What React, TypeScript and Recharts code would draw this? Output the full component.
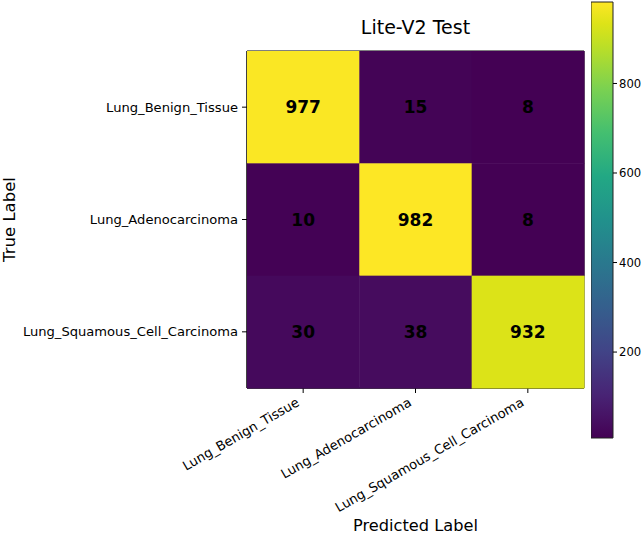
import React from "react";
import { ScatterChart, Scatter, XAxis, YAxis, ReferenceArea } from "recharts";

// confusion matrix, rows = true label, cols = predicted label
const classNames = ["Lung_Benign_Tissue", "Lung_Adenocarcinoma", "Lung_Squamous_Cell_Carcinoma"];
const rowBenign = [977, 15, 8];
const rowAdeno = [10, 982, 8];
const rowSquamous = [30, 38, 932];
const colorbarTicks = [200, 400, 600, 800];
const chartTitle = "Lite-V2 Test";

const matrix = [rowBenign, rowAdeno, rowSquamous];
const cells = matrix.flatMap((row, r) => row.map((value, c) => ({ col: c, row: r, value })));
const vmin = Math.min(...matrix.flat());
const vmax = Math.max(...matrix.flat());
const barEnds = [{ x: 0, y: vmin }, { x: 1, y: vmax }];

const FONT = "'DejaVu Sans', 'Liberation Sans', sans-serif";
const TICK_FS = 13.1;
const PLOT = 337;
const CELL = PLOT / classNames.length;

const VIRIDIS: [number, string][] = [
  [0, "#440154"], [0.05, "#471365"], [0.1, "#482475"], [0.2, "#414487"],
  [0.3, "#355f8d"], [0.4, "#2a788e"], [0.5, "#21918c"], [0.6, "#22a884"],
  [0.7, "#44bf70"], [0.8, "#7ad151"], [0.9, "#bddf26"], [0.95, "#dde318"], [1, "#fde725"],
];

function hexToRgb(h: string) {
  return [1, 3, 5].map((i) => parseInt(h.slice(i, i + 2), 16));
}

function viridis(t: number) {
  const v = Math.max(0, Math.min(1, t));
  for (let i = 1; i < VIRIDIS.length; i++) {
    const [t1, c1] = VIRIDIS[i];
    const [t0, c0] = VIRIDIS[i - 1];
    if (v <= t1) {
      const f = (v - t0) / (t1 - t0);
      const a = hexToRgb(c0);
      const b = hexToRgb(c1);
      const rgb = a.map((x, k) => Math.round(x + (b[k] - x) * f));
      return `rgb(${rgb.join(",")})`;
    }
  }
  return VIRIDIS[VIRIDIS.length - 1][1];
}

function HeatCell(props: any) {
  const { cx, cy, payload } = props;
  const t = (payload.value - vmin) / (vmax - vmin);
  return (
    <g>
      <rect x={cx - CELL / 2} y={cy - CELL / 2} width={CELL + 0.5} height={CELL + 0.5} fill={viridis(t)} />
      <text
        x={cx}
        y={cy}
        dy="0.36em"
        textAnchor="middle"
        fontSize={17}
        fontWeight="bold"
        fill="#000"
        fontFamily={FONT}
      >
        {payload.value}
      </text>
    </g>
  );
}

function XTick(props: any) {
  const { x, y, payload } = props;
  const ax = x - 3;
  const ay = y + 10;
  return (
    <text
      x={ax}
      y={ay}
      transform={`rotate(-30 ${ax} ${ay})`}
      textAnchor="end"
      fontSize={TICK_FS}
      fill="#000"
      fontFamily={FONT}
    >
      {classNames[payload.value]}
    </text>
  );
}

function TrueLabel(props: any) {
  const vb = props.viewBox;
  const x = vb.x + 15;
  const y = vb.y + vb.height / 2;
  return (
    <text x={x} y={y} transform={`rotate(-90 ${x} ${y})`} textAnchor="middle" fontSize={16.5} fill="#000" fontFamily={FONT}>
      True Label
    </text>
  );
}

export default function App() {
  return (
    <div style={{ position: "relative", width: 644, height: 535, fontFamily: FONT, background: "#fff", overflow: "hidden" }}>
      <style>{`body{margin:0}`}</style>
      <ScatterChart width={644} height={535} margin={{ top: 51, right: 60, bottom: 0, left: 0 }}>
        <XAxis
          type="number"
          dataKey="col"
          domain={[-0.5, 2.5]}
          ticks={[0, 1, 2]}
          height={147}
          tickSize={5}
          tickMargin={2}
          tick={<XTick />}
          axisLine={{ stroke: "#000" }}
          tickLine={{ stroke: "#000" }}
          label={{ value: "Predicted Label", position: "insideBottom", offset: 4, fontSize: 16.2, fill: "#000" }}
        />
        <YAxis
          type="number"
          dataKey="row"
          domain={[-0.5, 2.5]}
          reversed
          ticks={[0, 1, 2]}
          width={247}
          tickSize={5}
          tickMargin={4}
          tickFormatter={(v: number) => classNames[v]}
          tick={{ fontSize: TICK_FS, fill: "#000" }}
          axisLine={{ stroke: "#000" }}
          tickLine={{ stroke: "#000" }}
          label={{ content: <TrueLabel /> }}
        />
        <Scatter data={cells} shape={<HeatCell />} isAnimationActive={false} />
        <ReferenceArea x1={-0.5} x2={2.5} y1={-0.5} y2={2.5} fill="none" stroke="#000" strokeWidth={1} />
      </ScatterChart>

      <div style={{ position: "absolute", left: 591, top: 0, width: 53, height: 440 }}>
        <ScatterChart width={53} height={440} margin={{ top: 2, right: 0, bottom: 2, left: 0 }}>
          <defs>
            <linearGradient id="viridisBar" x1="0" y1="1" x2="0" y2="0">
              {VIRIDIS.map(([o, c]) => (
                <stop key={o} offset={o} stopColor={c} />
              ))}
            </linearGradient>
          </defs>
          <XAxis type="number" dataKey="x" domain={[0, 1]} hide />
          <YAxis
            type="number"
            dataKey="y"
            orientation="right"
            domain={[vmin, vmax]}
            ticks={colorbarTicks}
            width={31}
            tickSize={4}
            tickMargin={2}
            axisLine={false}
            tick={{ fontSize: 11.6, fill: "#000" }}
            tickLine={{ stroke: "#000" }}
          />
          <Scatter data={barEnds} shape={() => <g />} isAnimationActive={false} />
          <ReferenceArea
            x1={0}
            x2={1}
            y1={vmin}
            y2={vmax}
            fill="url(#viridisBar)"
            fillOpacity={1}
            stroke="#222"
            strokeWidth={1}
          />
        </ScatterChart>
      </div>

      <svg width={644} height={60} style={{ position: "absolute", left: 0, top: 0, pointerEvents: "none" }}>
        <text x={247 + PLOT / 2} y={34} textAnchor="middle" fontSize={19} fill="#000" fontFamily={FONT}>
          {chartTitle}
        </text>
      </svg>
    </div>
  );
}
